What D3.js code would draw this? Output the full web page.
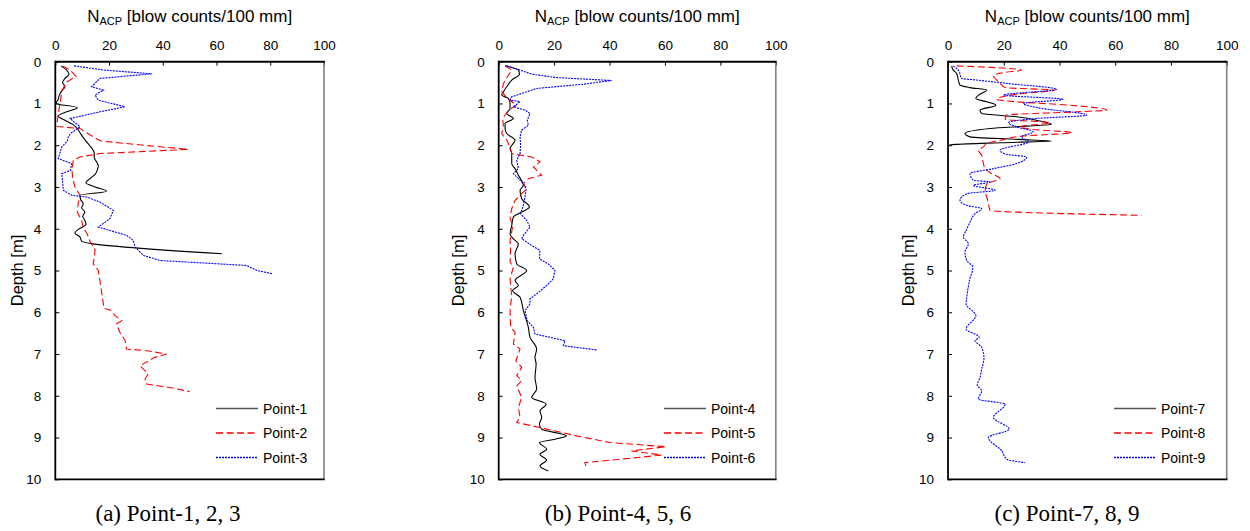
<!DOCTYPE html>
<html><head><meta charset="utf-8">
<script src="https://cdn.jsdelivr.net/npm/d3@7"></script>
<style>body{margin:0;background:#fff}svg{display:block}</style>
</head><body><svg id="c" width="1250" height="531"></svg>
<script>
// ---- data ----
const xTicks = [0, 20, 40, 60, 80, 100];
const yTicks = [0, 1, 2, 3, 4, 5, 6, 7, 8, 9, 10];
const captions = ["(a) Point-1, 2, 3", "(b) Point-4, 5, 6", "(c) Point-7, 8, 9"];
const seriesNames = ["Point-1","Point-2","Point-3","Point-4","Point-5","Point-6","Point-7","Point-8","Point-9"];

const d1=[0.1,0.2,0.3,0.4,0.5,0.6,0.7,0.8,0.9,1.0,1.1,1.2,1.3,1.4,1.5,1.6,1.7,1.8,1.9,2.0,2.1,2.2,2.3,2.4,2.5,2.6,2.7,2.8,2.9,3.0,3.1,3.2,3.3,3.4,3.5,3.6,3.7,3.8,3.9,4.0,4.1,4.2,4.3,4.35,4.6];
const n1=[2.1,4.2,5.1,3.6,2.7,3.6,2.4,1.5,1.1,0.3,8.2,4.2,1.1,3.6,6.5,8.2,9.2,10.2,11.4,12.7,13.9,14.5,14.5,15.4,16,15.6,14.8,12.9,11.4,14.8,19.1,9.2,9.4,10.4,9.8,11,10.2,11,11.4,8.9,7.3,9.2,9.8,13,62];
const d2=[0.1,0.2,0.35,0.5,0.7,0.9,1.1,1.3,1.45,1.55,1.6,1.8,1.9,2.0,2.1,2.2,2.28,2.36,2.6,2.8,3.0,3.2,3.4,3.6,3.8,4.0,4.1,4.3,4.5,4.7,4.84,5.0,5.24,5.5,5.8,5.9,5.96,6.08,6.2,6.28,6.48,6.68,6.88,6.92,7.0,7.08,7.28,7.48,7.6,7.72,7.8,7.9];
const n2=[2.7,5.5,7.7,4,2.5,2,1.5,1,0.7,0.7,9.2,14.1,17,32.8,49.5,16.6,9.2,6.7,6.2,6.5,7.3,9.2,8.5,8.2,9.8,10.5,11.7,12.9,14.8,14.5,14.1,16,16.6,17.2,17.9,18,20.9,22.2,24.7,22.8,24,26,26.5,34,41.4,37,31.5,34.6,33.4,34,42.7,50];
const d3_=[0.1,0.2,0.29,0.4,0.6,0.68,0.8,0.92,1.08,1.2,1.36,1.56,1.7,1.8,1.9,2.04,2.32,2.44,2.6,2.68,3.08,3.2,3.24,3.36,3.56,3.76,3.96,4.16,4.28,4.44,4.64,4.76,4.88,5.0,5.08];
const n3=[7,18,36,16.6,13.5,17.9,14.8,16,25.9,16.6,5.5,9.2,6,4.8,4.5,2.4,1.1,6.1,5.7,2.4,3,6.1,11.7,16.6,21.6,20.3,16,26.6,29,29.7,32.8,39,71.2,75,81];
const d4=[0.1,0.2,0.3,0.44,0.6,0.72,0.8,0.88,1.0,1.12,1.24,1.36,1.48,1.6,1.72,1.88,2.08,2.2,2.44,2.56,2.72,2.96,3.08,3.28,3.48,3.6,3.72,3.92,4.12,4.28,4.36,4.6,4.84,5.0,5.24,5.36,5.48,5.64,5.96,6.36,6.6,6.88,7.08,7.24,7.56,7.84,8.04,8.2,8.36,8.52,8.68,8.8,8.96,9.04,9.12,9.28,9.4,9.54,9.68,9.8];
const n4=[2.3,7.1,7.5,4.7,2.9,1.7,1.1,3.5,4.1,4.1,2.9,5.3,2.3,2.3,2.9,5.9,4.1,4.7,4.7,5.9,7.1,8.9,7.7,8.3,11.1,8.3,5.3,4.7,4.1,5.9,7.1,5.9,6.5,10.1,5.9,7.1,5.0,7.7,8.9,10.7,11.3,13.7,13.1,13.5,13.1,13.7,11.9,17.1,14.9,15.5,14.7,15.5,24.5,20.3,14.7,17.3,14.9,17.3,14.9,17.9];
const d5=[0.1,0.2,0.32,0.52,0.72,0.9,1.04,1.16,1.36,1.52,1.72,1.88,2.04,2.2,2.28,2.4,2.52,2.72,2.8,2.92,3.04,3.2,3.32,3.52,3.72,3.96,4.28,4.52,4.8,4.92,5.2,5.36,5.6,5.96,6.36,6.48,6.76,6.88,7.16,7.32,7.52,7.64,7.76,8.04,8.28,8.52,8.64,8.76,8.96,9.12,9.22,9.32,9.42,9.52,9.6,9.72];
const n5=[2.3,4.7,3.5,1.7,1.1,3.5,6.5,3.5,1.4,1.7,1.1,2.9,4.1,4.7,11.9,14.9,12.5,15.5,10.7,8.9,10.1,7.7,5.9,4.7,4.1,5.0,4.1,4.3,4.1,5.3,4.1,4.3,4.7,4.1,4.3,5.9,5.3,7.7,6.2,8.3,6.5,8.3,6.5,8.3,7.1,7.7,6.5,14.9,28.1,40.1,60.3,47.9,58.8,43.7,31.1,31.7];
const d6=[0.1,0.2,0.3,0.38,0.45,0.54,0.64,0.72,0.84,0.92,0.96,1.08,1.16,1.24,1.4,1.52,1.64,1.8,2.0,2.2,2.36,2.56,2.68,2.88,3.04,3.24,3.44,3.64,3.8,3.96,4.16,4.24,4.4,4.52,4.72,4.84,5.0,5.2,5.36,5.56,5.68,5.8,5.96,6.2,6.36,6.52,6.6,6.68,6.8,6.9];
const n6=[2.9,7.7,12,20.9,40.7,30.5,13.7,10.1,4.7,4.1,7.7,5.3,9.5,11.3,10.3,10.7,8.3,7.7,7.9,7.7,6.5,7.1,5.3,8.3,9.9,9.5,8.9,7.9,10.1,11.3,8.9,8.3,11.9,14.9,14.7,17.9,20.3,19.7,17.3,13.7,11.3,11.3,9.5,10.3,12.5,13.1,18.5,23.9,23.3,35.3];
const d7=[0.1,0.2,0.28,0.44,0.56,0.62,0.68,0.8,0.88,0.96,1.04,1.16,1.24,1.32,1.42,1.5,1.54,1.6,1.72,1.8,1.86,1.9,1.94,1.98,2.0];
const n7=[1.3,1.9,3.1,3.7,4.3,7.9,13.9,10.9,10,13.9,17.2,11.5,12.1,24.6,33,37.2,29.4,15.1,6.1,7.9,25.2,37.2,18.7,2.9,0.3];
const d8=[0.1,0.2,0.26,0.34,0.44,0.56,0.62,0.68,0.76,0.9,0.96,1.02,1.16,1.2,1.28,1.38,1.46,1.56,1.62,1.7,1.78,1.88,1.96,2.04,2.12,2.24,2.44,2.56,2.68,2.8,2.92,3.12,3.24,3.4,3.56,3.68];
const n8=[3.1,26.4,20,16.3,17.5,19.3,20.5,38.4,27,17.5,24.6,39,57,46.2,21,20.5,36.6,25.8,30,44.4,27,18.7,13.9,12.7,10.9,12.1,12.7,13.3,15.7,18.7,13.9,13.3,13.9,14.5,15.1,69.5];
const d9=[0.1,0.2,0.4,0.44,0.52,0.66,0.8,0.9,1.0,1.1,1.28,1.36,1.46,1.56,1.68,1.8,1.92,2.12,2.22,2.28,2.44,2.56,2.68,2.84,2.88,2.96,3.08,3.16,3.32,3.44,3.52,3.64,3.84,4.04,4.2,4.36,4.56,4.76,4.92,5.24,5.56,5.8,6.08,6.4,6.6,6.68,6.84,7.1,7.36,7.56,7.74,7.88,8.08,8.2,8.52,8.8,9.0,9.32,9.52,9.6];
const n9=[1.9,3.7,4.9,10.3,21.1,39,19.9,41.4,27,32,49.8,31.8,21.7,24.6,30.6,26.4,28.8,18.7,21.1,28.2,24.6,16.3,7.9,9.1,15.1,9.1,16.9,6.7,4.3,6.7,12.1,9.7,7.9,6.5,5.5,7.3,6.1,6.7,8.9,7.7,6.9,6.5,10,6.5,11.2,9.7,12.1,12.9,12.1,11.5,10.5,12.1,10.9,20.5,16.3,22,14.5,19.3,21.1,27.6];

const depths = [d1,d2,d3_,d4,d5,d6,d7,d8,d9];
const values = [n1,n2,n3,n4,n5,n6,n7,n8,n9];

// ---- layout / style ----
const panels = [
  {l:55.3, r:324, t:61.7, b:479.3, ylab:17, cap:168, legX:216},
  {l:498.7, r:775.8, t:61.7, b:479.3, ylab:458, cap:618, legX:664},
  {l:948, r:1226.7, t:61.7, b:479.3, ylab:908, cap:1067, legX:1114}
];
const styles = [
  {color:"#000000", dash:null, w:1.1},
  {color:"#FF0000", dash:"7,3.5", w:1.1},
  {color:"#0000FF", dash:"2,1", w:1.1}
];
const sans = "'Liberation Sans', Arial, sans-serif";
const serif = "'Liberation Serif', 'Times New Roman', serif";

const svg = d3.select("#c");

panels.forEach((p, pi) => {
  const x = d3.scaleLinear().domain([0,100]).range([p.l, p.r]);
  const y = d3.scaleLinear().domain([0,10]).range([p.t, p.b]);
  const g = svg.append("g");

  // series
  for (let k = 0; k < 3; k++) {
    const si = pi*3 + k;
    const pts = d3.zip(depths[si], values[si]);
    const st = styles[k];
    const curve = (k === 0 || pi === 2) ? d3.curveMonotoneY : d3.curveLinear;
    const line = d3.line().x(d => x(d[1])).y(d => y(d[0])).curve(curve);
    g.append("path").attr("d", line(pts)).attr("fill","none")
      .attr("stroke", st.color).attr("stroke-width", st.w)
      .attr("stroke-dasharray", st.dash);
  }

  // axes (ticks inward)
  const xa = d3.axisTop(x).tickValues(xTicks).tickSize(-4).tickPadding(12).tickFormat(d3.format("d"));
  const gx = g.append("g").attr("transform", `translate(0,${p.t})`).call(xa);
  const ya = d3.axisLeft(y).tickValues(yTicks).tickSize(-4).tickPadding(14).tickFormat(d3.format("d"));
  const gy = g.append("g").attr("transform", `translate(${p.l},0)`).call(ya);
  [gx, gy].forEach(a => {
    a.select(".domain").remove();
    a.selectAll(".tick line").attr("stroke","#000").attr("stroke-width",1);
    a.selectAll(".tick text").attr("font-family", sans).attr("font-size", 13.5).attr("fill","#000");
  });

  // frame
  g.append("line").attr("x1",p.r).attr("x2",p.r).attr("y1",p.t).attr("y2",p.b).attr("stroke","#808080").attr("stroke-width",1.6);
  g.append("line").attr("x1",p.l).attr("x2",p.r+0.8).attr("y1",p.t).attr("y2",p.t).attr("stroke","#000").attr("stroke-width",2);
  g.append("line").attr("x1",p.l).attr("x2",p.r+0.8).attr("y1",p.b).attr("y2",p.b).attr("stroke","#000").attr("stroke-width",1.8);
  g.append("line").attr("x1",p.l).attr("x2",p.l).attr("y1",p.t-1).attr("y2",p.b+0.9).attr("stroke","#000").attr("stroke-width",1.8);

  // x title
  const tt = g.append("text").attr("x",(p.l+p.r)/2).attr("y",22).attr("text-anchor","middle")
    .attr("font-family", sans).attr("font-size",17).attr("fill","#000");
  tt.append("tspan").text("N");
  tt.append("tspan").attr("font-size",11).attr("dy",3).text("ACP");
  tt.append("tspan").attr("dy",-3).text(" [blow counts/100 mm]");

  // y title
  g.append("text").attr("transform",`translate(${p.ylab + 5.5},${(p.t+p.b)/2}) rotate(-90)`)
    .attr("text-anchor","middle").attr("font-family", sans).attr("font-size",16.5).attr("fill","#000")
    .text("Depth [m]");

  // legend
  const legY = [408.5, 433, 457.5];
  for (let k = 0; k < 3; k++) {
    const st = styles[k];
    g.append("line").attr("x1",p.legX).attr("x2",p.legX+42).attr("y1",legY[k]).attr("y2",legY[k])
      .attr("stroke", k===0 ? "#555" : st.color).attr("stroke-width", 1.3).attr("stroke-dasharray", st.dash);
    g.append("text").attr("x",p.legX+47).attr("y",legY[k]+5).attr("font-family",sans).attr("font-size",14)
      .attr("fill","#000").text(seriesNames[pi*3+k]);
  }

  // caption
  g.append("text").attr("x",p.cap).attr("y",521).attr("text-anchor","middle")
    .attr("font-family", serif).attr("font-size",23).attr("fill","#000").text(captions[pi]);
});
</script></body></html>
